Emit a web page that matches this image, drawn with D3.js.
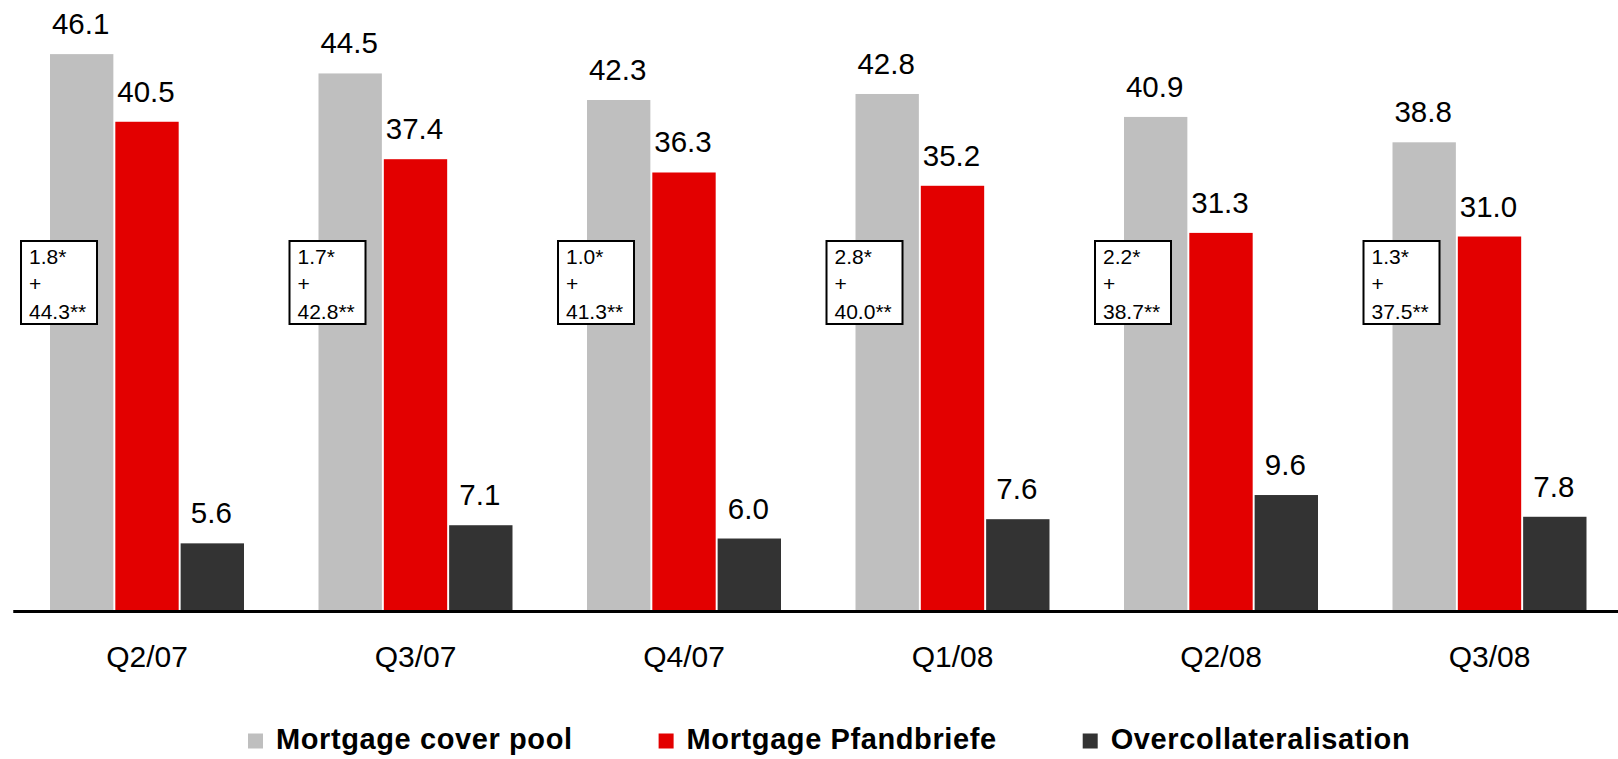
<!DOCTYPE html>
<html>
<head>
<meta charset="utf-8">
<script src="https://cdn.jsdelivr.net/npm/d3@7"></script>
<style>
  body { margin: 0; background: #fff; }
  svg { display: block; font-family: "Liberation Sans", Arial, sans-serif; }
</style>
</head>
<body>
<div class="chart"></div>
<script>
// chart data
var quarters = ["Q2/07", "Q3/07", "Q4/07", "Q1/08", "Q2/08", "Q3/08"];
var seriesNames = ["Mortgage cover pool", "Mortgage Pfandbriefe", "Overcollateralisation"];
var coverPool = [46.1, 44.5, 42.3, 42.8, 40.9, 38.8];
var pfandbriefe = [40.5, 37.4, 36.3, 35.2, 31.3, 31.0];
var overcoll = [5.6, 7.1, 6.0, 7.6, 9.6, 7.8];
var boxFirst = ["1.8*", "1.7*", "1.0*", "2.8*", "2.2*", "1.3*"];
var boxSecond = ["44.3**", "42.8**", "41.3**", "40.0**", "38.7**", "37.5**"];

var colors = ["#bfbfbf", "#e30000", "#333333"];

var svgWidth = 1618;
var svgHeight = 759;
var baseY = 611;

var svg = d3.select(".chart")
    .append("svg")
    .attr("width", svgWidth)
    .attr("height", svgHeight);

// scales
var x0 = d3.scaleBand()
    .domain(quarters)
    .range([12.75, 1623.75])
    .paddingInner(0.2775)
    .paddingOuter(0.13875);

var x1 = d3.scaleBand()
    .domain(seriesNames)
    .range([0, x0.bandwidth()])
    .paddingInner(0.03);

var y = d3.scaleLinear()
    .domain([0, 50])
    .range([baseY, 7]);

var color = d3.scaleOrdinal().domain(seriesNames).range(colors);

// rows for each quarter
var rows = quarters.map(function (q, i) {
    return {
        quarter: q,
        values: [coverPool[i], pfandbriefe[i], overcoll[i]].map(function (v, j) {
            return { series: seriesNames[j], value: v };
        }),
        box: [boxFirst[i], "+", boxSecond[i]]
    };
});

var groups = svg.selectAll(".group")
    .data(rows)
    .enter()
    .append("g")
    .attr("class", "group")
    .attr("transform", function (d) { return "translate(" + x0(d.quarter) + ",0)"; });

// bars
groups.selectAll("rect")
    .data(function (d) { return d.values; })
    .enter()
    .append("rect")
    .attr("x", function (d) { return x1(d.series); })
    .attr("y", function (d) { return y(d.value); })
    .attr("width", x1.bandwidth())
    .attr("height", function (d) { return baseY - y(d.value); })
    .attr("fill", function (d) { return color(d.series); });

// value labels
groups.selectAll(".val")
    .data(function (d) { return d.values; })
    .enter()
    .append("text")
    .attr("class", "val")
    .attr("x", function (d) { return x1(d.series) + x1.bandwidth() / 2 - 1; })
    .attr("y", function (d) { return y(d.value) - 20; })
    .attr("text-anchor", "middle")
    .attr("font-size", "29.5px")
    .attr("fill", "#000")
    .text(function (d) { return d.value.toFixed(1); });

// annotation boxes
var boxes = groups.append("g")
    .attr("transform", "translate(-29,241)");

boxes.append("rect")
    .attr("width", 76)
    .attr("height", 83)
    .attr("fill", "#fff")
    .attr("stroke", "#000")
    .attr("stroke-width", 2);

boxes.selectAll("text")
    .data(function (d) { return d.box; })
    .enter()
    .append("text")
    .attr("x", 8)
    .attr("y", function (d, i) { return 22.5 + i * 27.5; })
    .attr("font-size", "21px")
    .attr("fill", "#000")
    .text(function (d) { return d; });

// x axis
var xAxis = d3.axisBottom(x0).tickSize(0).tickPadding(35);
var axisG = svg.append("g")
    .attr("class", "x-axis")
    .attr("transform", "translate(0," + baseY + ")")
    .call(xAxis);
axisG.select(".domain").attr("stroke", "#000").attr("stroke-width", 3);
axisG.selectAll("text")
    .attr("font-size", "30px")
    .attr("font-family", "'Liberation Sans', Arial, sans-serif")
    .attr("fill", "#000");

// legend
var legend = svg.append("g").attr("class", "legend");
var lx = 248;
seriesNames.forEach(function (name, i) {
    legend.append("rect")
        .attr("x", lx)
        .attr("y", 733.5)
        .attr("width", 15)
        .attr("height", 15)
        .attr("fill", colors[i]);
    var t = legend.append("text")
        .attr("x", lx + 28)
        .attr("y", 749)
        .attr("font-size", "29px")
        .attr("font-weight", "bold")
        .attr("letter-spacing", "0.6px")
        .attr("fill", "#000")
        .text(name);
    lx = lx + 28 + t.node().getComputedTextLength() + 86;
});
</script>
</body>
</html>
